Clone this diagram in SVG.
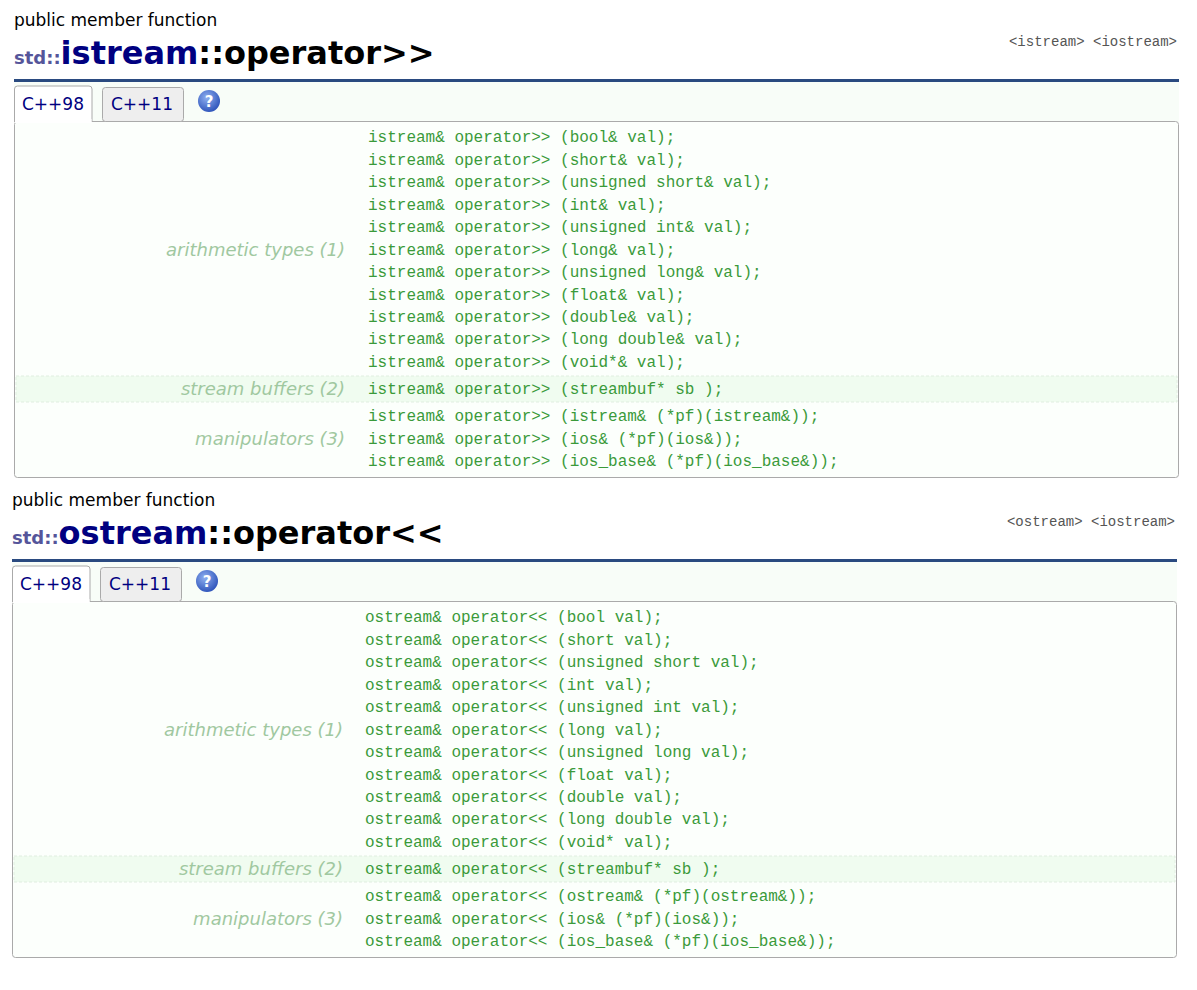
<svg xmlns="http://www.w3.org/2000/svg" width="1197" height="990" viewBox="0 0 1197 990">
<style>
.pm{font-family:"DejaVu Sans",sans-serif;font-size:17px;fill:#000}
.std{font-family:"DejaVu Sans",sans-serif;font-weight:bold;font-size:18px;fill:#55559a}
.cls{font-family:"DejaVu Sans",sans-serif;font-weight:bold;font-size:32px;fill:#000080}
.op{font-family:"DejaVu Sans",sans-serif;font-weight:bold;font-size:32px;fill:#000}
.hdr{font-family:"Liberation Mono",monospace;font-size:14px;fill:#555}
.tab{font-family:"DejaVu Sans",sans-serif;font-size:17px;fill:#000080}
.code{font-family:"Liberation Mono",monospace;font-size:16px;fill:#3a9a3a}
.lab{font-family:"DejaVu Sans",sans-serif;font-style:italic;font-size:18px;fill:#a0c8a0;text-anchor:end}
.box{fill:#fcfffc;stroke:#aaa;stroke-width:1}
.band{fill:#f0fcf0;stroke:#e0eee0;stroke-dasharray:3 2}
</style>
<defs>
<radialGradient id="hg" cx="0.4" cy="0.35" r="0.7"><stop offset="0" stop-color="#8fb0f0"/><stop offset="1" stop-color="#2a50b8"/></radialGradient>
</defs>
<rect width="1197" height="990" fill="#fff"/>
<g id="istream">
<text class="pm" x="14" y="26">public member function</text>
<text x="14" y="64"><tspan class="std">std::</tspan><tspan class="cls">istream</tspan><tspan class="op">::operator&gt;&gt;</tspan></text>
<text class="hdr" x="1177" y="46" text-anchor="end">&lt;istream&gt; &lt;iostream&gt;</text>
<rect x="14" y="79" width="1165" height="3" fill="#2a4a80"/>
<rect x="14" y="82" width="1165" height="40" fill="#f8fdf8"/>
<rect class="box" x="14.5" y="121.5" width="1164" height="356" rx="3"/>
<rect x="102.5" y="87.5" width="81" height="34" rx="3" fill="#eee" stroke="#aaa"/>
<text class="tab" x="142" y="110" text-anchor="middle">C++11</text>
<path d="M14.5 122 V89 a3 3 0 0 1 3 -3 H89 a3 3 0 0 1 3 3 V122" fill="#fff" stroke="#aaa"/>
<rect x="15" y="119" width="76.5" height="4" fill="#fff"/>
<text class="tab" x="53" y="110" text-anchor="middle">C++98</text>
<circle cx="209" cy="101" r="11" fill="url(#hg)"/>
<text x="209" y="107" text-anchor="middle" font-family="DejaVu Sans,sans-serif" font-weight="bold" font-size="15" fill="#fff">?</text>
<rect class="band" x="16" y="376" width="1161" height="26"/>
<text class="lab" x="345" y="256">arithmetic types (1)</text>
<text class="lab" x="345" y="395">stream buffers (2)</text>
<text class="lab" x="345" y="445">manipulators (3)</text>
<g class="code">
<text x="368" y="142">istream&amp; operator&gt;&gt; (bool&amp; val);</text>
<text x="368" y="165">istream&amp; operator&gt;&gt; (short&amp; val);</text>
<text x="368" y="187">istream&amp; operator&gt;&gt; (unsigned short&amp; val);</text>
<text x="368" y="210">istream&amp; operator&gt;&gt; (int&amp; val);</text>
<text x="368" y="232">istream&amp; operator&gt;&gt; (unsigned int&amp; val);</text>
<text x="368" y="255">istream&amp; operator&gt;&gt; (long&amp; val);</text>
<text x="368" y="277">istream&amp; operator&gt;&gt; (unsigned long&amp; val);</text>
<text x="368" y="300">istream&amp; operator&gt;&gt; (float&amp; val);</text>
<text x="368" y="322">istream&amp; operator&gt;&gt; (double&amp; val);</text>
<text x="368" y="344">istream&amp; operator&gt;&gt; (long double&amp; val);</text>
<text x="368" y="367">istream&amp; operator&gt;&gt; (void*&amp; val);</text>
<text x="368" y="394">istream&amp; operator&gt;&gt; (streambuf* sb );</text>
<text x="368" y="421">istream&amp; operator&gt;&gt; (istream&amp; (*pf)(istream&amp;));</text>
<text x="368" y="444">istream&amp; operator&gt;&gt; (ios&amp; (*pf)(ios&amp;));</text>
<text x="368" y="466">istream&amp; operator&gt;&gt; (ios_base&amp; (*pf)(ios_base&amp;));</text>
</g>
</g>
<g id="ostream">
<text class="pm" x="12" y="506">public member function</text>
<text x="12" y="544"><tspan class="std">std::</tspan><tspan class="cls">ostream</tspan><tspan class="op">::operator&lt;&lt;</tspan></text>
<text class="hdr" x="1175" y="526" text-anchor="end">&lt;ostream&gt; &lt;iostream&gt;</text>
<rect x="12" y="559" width="1165" height="3" fill="#2a4a80"/>
<rect x="12" y="562" width="1165" height="40" fill="#f8fdf8"/>
<rect class="box" x="12.5" y="601.5" width="1164" height="356" rx="3"/>
<rect x="100.5" y="567.5" width="81" height="34" rx="3" fill="#eee" stroke="#aaa"/>
<text class="tab" x="140" y="590" text-anchor="middle">C++11</text>
<path d="M12.5 602 V569 a3 3 0 0 1 3 -3 H87 a3 3 0 0 1 3 3 V602" fill="#fff" stroke="#aaa"/>
<rect x="13" y="599" width="76.5" height="4" fill="#fff"/>
<text class="tab" x="51" y="590" text-anchor="middle">C++98</text>
<circle cx="207" cy="581" r="11" fill="url(#hg)"/>
<text x="207" y="587" text-anchor="middle" font-family="DejaVu Sans,sans-serif" font-weight="bold" font-size="15" fill="#fff">?</text>
<rect class="band" x="14" y="856" width="1161" height="26"/>
<text class="lab" x="343" y="736">arithmetic types (1)</text>
<text class="lab" x="343" y="875">stream buffers (2)</text>
<text class="lab" x="343" y="925">manipulators (3)</text>
<g class="code">
<text x="365" y="622">ostream&amp; operator&lt;&lt; (bool val);</text>
<text x="365" y="645">ostream&amp; operator&lt;&lt; (short val);</text>
<text x="365" y="667">ostream&amp; operator&lt;&lt; (unsigned short val);</text>
<text x="365" y="690">ostream&amp; operator&lt;&lt; (int val);</text>
<text x="365" y="712">ostream&amp; operator&lt;&lt; (unsigned int val);</text>
<text x="365" y="735">ostream&amp; operator&lt;&lt; (long val);</text>
<text x="365" y="757">ostream&amp; operator&lt;&lt; (unsigned long val);</text>
<text x="365" y="780">ostream&amp; operator&lt;&lt; (float val);</text>
<text x="365" y="802">ostream&amp; operator&lt;&lt; (double val);</text>
<text x="365" y="824">ostream&amp; operator&lt;&lt; (long double val);</text>
<text x="365" y="847">ostream&amp; operator&lt;&lt; (void* val);</text>
<text x="365" y="874">ostream&amp; operator&lt;&lt; (streambuf* sb );</text>
<text x="365" y="901">ostream&amp; operator&lt;&lt; (ostream&amp; (*pf)(ostream&amp;));</text>
<text x="365" y="924">ostream&amp; operator&lt;&lt; (ios&amp; (*pf)(ios&amp;));</text>
<text x="365" y="946">ostream&amp; operator&lt;&lt; (ios_base&amp; (*pf)(ios_base&amp;));</text>
</g>
</g>
</svg>
